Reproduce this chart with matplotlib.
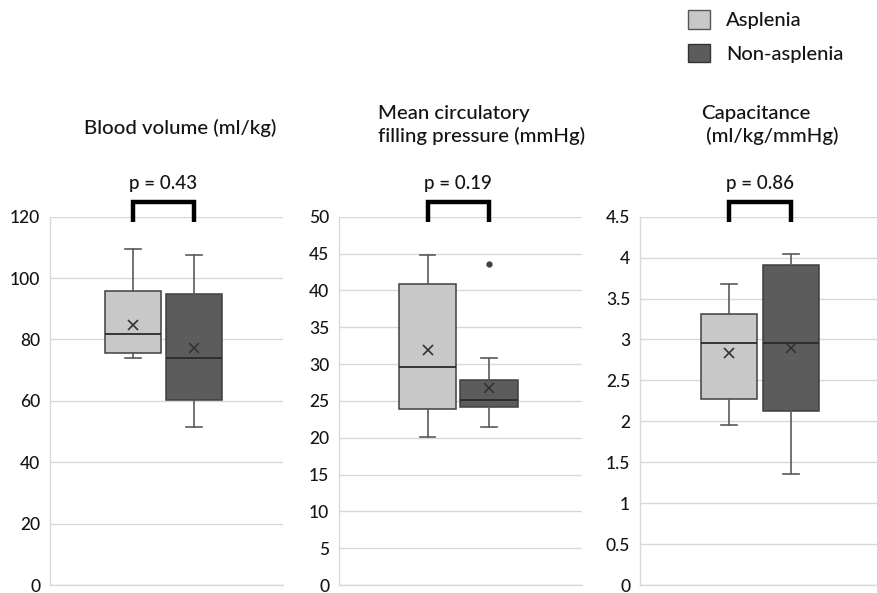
import matplotlib
matplotlib.use("Agg")
import matplotlib.pyplot as plt
from matplotlib.patches import Patch
from matplotlib.transforms import blended_transform_factory

plt.rcParams['font.family'] = ['Lato', 'DejaVu Sans']
plt.rcParams['font.weight'] = 'medium'

# ---- data ----
groups = ["Asplenia", "Non-asplenia"]
titles = ["Blood volume (ml/kg)",
          "Mean circulatory\nfilling pressure (mmHg)",
          "Capacitance\n (ml/kg/mmHg)"]
p_values = ["p = 0.43", "p = 0.19", "p = 0.86"]

# order: whislo, q1, median, q3, whishi, mean
bv_asplenia = [74.1, 75.5, 81.8, 95.7, 109.5, 84.8]
bv_non = [51.6, 60.2, 74.1, 94.9, 107.6, 77.3]
mcfp_asplenia = [20.1, 23.9, 29.6, 40.8, 44.8, 31.9]
mcfp_non = [21.4, 24.1, 25.1, 27.8, 30.8, 26.7]
mcfp_non_outliers = [43.6]
cap_asplenia = [1.95, 2.27, 2.96, 3.31, 3.68, 2.83]
cap_non = [1.36, 2.12, 2.96, 3.91, 4.05, 2.90]

y_ticks = [[0, 20, 40, 60, 80, 100, 120],
           [0, 5, 10, 15, 20, 25, 30, 35, 40, 45, 50],
           [0, 0.5, 1, 1.5, 2, 2.5, 3, 3.5, 4, 4.5]]
y_ticklabels = [[str(t) for t in y_ticks[0]],
                [str(t) for t in y_ticks[1]],
                ["0", "0.5", "1", "1.5", "2", "2.5", "3", "3.5", "4", "4.5"]]


def stats(v, fliers=()):
    lo, q1, med, q3, hi, mean = v
    return dict(whislo=lo, q1=q1, med=med, q3=q3, whishi=hi, mean=mean,
                fliers=list(fliers))


panel_stats = [
    [stats(bv_asplenia), stats(bv_non)],
    [stats(mcfp_asplenia), stats(mcfp_non, mcfp_non_outliers)],
    [stats(cap_asplenia), stats(cap_non)],
]

# ---- layout ----
W, H = 877, 593
fig = plt.figure(figsize=(W / 100, H / 100), dpi=100)
ax_px = [(50, 233), (339, 243), (640, 237)]
top_px, bot_px = 216.7, 585
xlims = [(-0.361, 3.459), (-0.439, 3.512), (-0.424, 3.38)]
box_w = [0.92, 0.93, 0.90]

light = "#c8c8c8"
dark = "#5c5c5c"
edge = "#3f3f3f"
grid_c = "#d9d9d9"
txt_c = "#141414"

for i in range(3):
    l, w = ax_px[i]
    ax = fig.add_axes([l / W, (H - bot_px) / H, w / W, (bot_px - top_px) / H])
    bp = ax.bxp(panel_stats[i], positions=[1, 2], widths=box_w[i],
                patch_artist=True, showmeans=True, showfliers=True,
                capwidths=0.26,
                boxprops=dict(edgecolor=edge, linewidth=1.1),
                whiskerprops=dict(color="#5a5a5a", linewidth=1.2),
                capprops=dict(color="#5a5a5a", linewidth=1.2),
                medianprops=dict(color="#2a2a2a", linewidth=1.3),
                meanprops=dict(marker="x", markeredgecolor="#333333",
                               markersize=7, markeredgewidth=1.2),
                flierprops=dict(marker="o", markerfacecolor="#404040",
                                markeredgecolor="#404040", markersize=3.5))
    for patch, c in zip(bp["boxes"], [light, dark]):
        patch.set_facecolor(c)
    ax.set_xlim(*xlims[i])
    ax.set_ylim(y_ticks[i][0], y_ticks[i][-1])
    ax.set_yticks(y_ticks[i])
    ax.set_yticklabels(y_ticklabels[i], fontsize=12.5, color=txt_c)
    ax.set_xticks([])
    ax.tick_params(axis="y", length=0, pad=7)
    ax.grid(axis="y", color=grid_c, linewidth=1.0)
    ax.set_axisbelow(True)
    for s in ["top", "right"]:
        ax.spines[s].set_visible(False)
    for s in ["left", "bottom"]:
        ax.spines[s].set_color(grid_c)
        ax.spines[s].set_linewidth(1.0)

    # significance bracket
    tr = blended_transform_factory(ax.transData, ax.transAxes)
    yb = (bot_px - 221.5) / (bot_px - top_px)
    yt = (bot_px - 202) / (bot_px - top_px)
    ax.plot([1, 1, 2, 2], [yb, yt, yt, yb], color="black", linewidth=3.2,
            transform=tr, clip_on=False, solid_joinstyle="miter",
            solid_capstyle="butt")
    ax.text(1.5, (bot_px - 183) / (bot_px - top_px), p_values[i],
            transform=tr, ha="center", va="center", fontsize=13.5,
            color=txt_c)

# titles
fig.text(180 / W, 1 - 128 / H, titles[0], ha="center", va="center",
         fontsize=14.7, color=txt_c)
fig.text(378 / W, 1 - 125 / H, titles[1], ha="left", va="center",
         fontsize=14.7, color=txt_c, linespacing=1.3)
fig.text(701 / W, 1 - 125 / H, titles[2], ha="left", va="center",
         fontsize=14.7, color=txt_c, linespacing=1.3)

# legend
handles = [Patch(facecolor=light, edgecolor="#555555", linewidth=1.0),
           Patch(facecolor=dark, edgecolor="#333333", linewidth=1.0)]
fig.legend(handles, groups, loc="upper left",
           bbox_to_anchor=(688 / W, 1 - 10 / H), frameon=False,
           fontsize=14.5, handlelength=1.08, handleheight=1.05,
           handletextpad=0.8, labelspacing=0.72, borderpad=0,
           borderaxespad=0, labelcolor=txt_c)

fig.savefig("out.png", dpi=100)
